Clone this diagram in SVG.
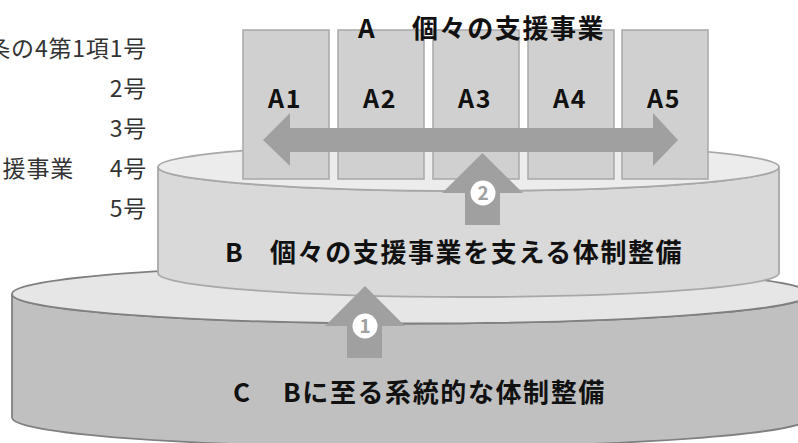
<svg xmlns="http://www.w3.org/2000/svg" width="798" height="443" viewBox="0 0 798 443">
<style>
.lbl{font-family:"Noto Sans CJK JP","Noto Sans",sans-serif;font-weight:bold;font-size:26px;letter-spacing:1.6px;fill:#111}
.al{font-family:"Noto Sans CJK JP","Noto Sans",sans-serif;font-weight:bold;font-size:25px;letter-spacing:1.5px;fill:#111;text-anchor:middle}
.side{font-family:"Noto Sans CJK JP","Noto Sans",sans-serif;font-size:23px;letter-spacing:0.8px;fill:#333;text-anchor:end}
.rect{fill:#d0d0d0;stroke:#a8a8a8;stroke-width:1.5}
.arrow{fill:#a0a0a0}
.num{font-family:"Noto Sans CJK JP","Noto Sans",sans-serif;font-weight:bold;font-size:19px;fill:#a0a0a0;text-anchor:middle}
</style>
<rect width="798" height="443" fill="#fff"/>
<g id="side-labels">
<text class="side" x="147" y="57">条の4第1項1号</text>
<text class="side" x="147" y="97">2号</text>
<text class="side" x="147" y="137">3号</text>
<text class="side" x="74" y="177">援事業</text>
<text class="side" x="147" y="177">4号</text>
<text class="side" x="147" y="217">5号</text>
</g>
<g id="node-C">
<path d="M12,294 L12,417.5 A399,29.5 0 0 0 810,417.5 L810,294 A399,29.5 0 0 1 12,294 Z" fill="#c0c0c0" stroke="#808080" stroke-width="1.8"/>
<ellipse cx="411" cy="294" rx="399" ry="29.5" fill="#e6e6e6" stroke="#808080" stroke-width="1.8"/>
<text class="lbl" y="402"><tspan x="233">C　</tspan><tspan x="283">Bに至る系統的な体制整備</tspan></text>
</g>
<g id="node-B">
<path d="M158,167 L158,273 A310.5,24 0 0 0 779,273 L779,167 A310.5,24 0 0 1 158,167 Z" fill="#d9d9d9" stroke="#a8a8a8" stroke-width="1.8"/>
<ellipse cx="468.5" cy="167" rx="310.5" ry="24" fill="#ececec" stroke="#a8a8a8" stroke-width="1.8"/>
<text class="lbl" y="262"><tspan x="225">B　</tspan><tspan x="270">個々の支援事業を支える体制整備</tspan></text>
</g>
<g id="node-A1"><rect class="rect" x="243" y="30" width="86" height="149"/><text class="al" x="285" y="108">A1</text></g>
<g id="node-A2"><rect class="rect" x="338" y="30" width="86" height="149"/><text class="al" x="380" y="108">A2</text></g>
<g id="node-A3"><rect class="rect" x="433" y="30" width="86" height="149"/><text class="al" x="475" y="108">A3</text></g>
<g id="node-A4"><rect class="rect" x="528" y="30" width="86" height="149"/><text class="al" x="570" y="108">A4</text></g>
<g id="node-A5"><rect class="rect" x="622" y="30" width="86" height="149"/><text class="al" x="664" y="108">A5</text></g>
<g id="node-A-title">
<text class="lbl" y="38"><tspan x="358">A　</tspan><tspan x="412">個々の支援事業</tspan></text>
</g>
<g id="connectors">
<polygon class="arrow" points="263,140 290,113 290,128 653,128 653,113 678,140 653,166 653,152 290,152 290,166"/>
<polygon class="arrow" points="482.5,153 442,193 465,193 465,225 500,225 500,193 523,193"/>
<circle cx="483" cy="193" r="12.5" fill="#fff"/>
<text class="num" x="483" y="199.5">2</text>
<polygon class="arrow" points="365,286 325,326 347,326 347,358 382,358 382,326 405,326"/>
<circle cx="365" cy="326" r="12.5" fill="#fff"/>
<text class="num" x="365" y="332.5">1</text>
</g>
</svg>
